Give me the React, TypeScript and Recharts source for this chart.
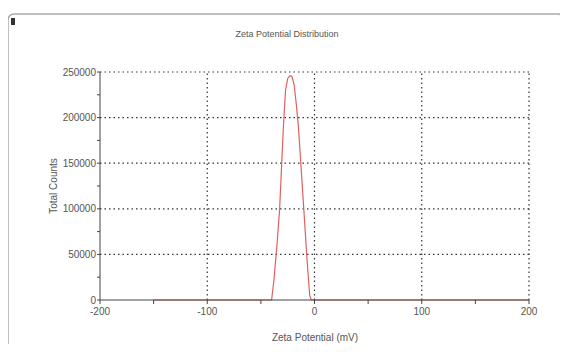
import { LineChart, Line, XAxis, YAxis, ReferenceLine } from "recharts";

// zeta potential (mV) and total counts
const potential = [-150, -40, -38, -35, -32.5, -29, -27, -25, -23, -21, -19, -17, -15, -12.5, -10, -7, -4.5, -3, 200];
const counts = [0, 0, 20000, 60000, 100000, 190000, 230000, 243000, 246000, 245000, 236000, 215000, 190000, 145000, 100000, 45000, 5000, 0, 0];

const xTicks = [-200, -150, -100, -50, 0, 50, 100, 150, 200];
const yTicks = [0, 25000, 50000, 75000, 100000, 125000, 150000, 175000, 200000, 225000, 250000];
const xGrid = [-100, 0, 100, 200];
const yGrid = [50000, 100000, 150000, 200000, 250000];

const data = potential.map((p, i) => ({ p, c: counts[i] }));

const font = "'Liberation Sans', Arial, sans-serif";
const textColor = "#555";

export default function App() {
  return (
    <div style={{ margin: -8, width: 568, height: 352, position: "relative", background: "#fff", overflow: "hidden" }}>
      <LineChart
        width={568}
        height={352}
        data={data}
        margin={{ top: 72, right: 39, bottom: 22, left: 0 }}
        style={{ fontFamily: font }}
      >
        <rect x={8} y={14} width={556} height={350} rx={6} fill="none" stroke="#aaa" strokeWidth={1.5} />
        <rect x={11} y={18} width={4} height={7} fill="#333" />
        <text x={287} y={37} textAnchor="middle" fontSize={9} fill={textColor}>
          Zeta Potential Distribution
        </text>
        <text x={57} y={186} textAnchor="middle" fontSize={10} fill={textColor} transform="rotate(-90 57 186)">
          Total Counts
        </text>
        <text x={315} y={341} textAnchor="middle" fontSize={10} fill={textColor}>
          Zeta Potential (mV)
        </text>
        <XAxis
          dataKey="p"
          type="number"
          domain={[-200, 200]}
          ticks={xTicks}
          interval={0}
          height={30}
          tickSize={4}
          tickFormatter={(v: number) => (v % 100 === 0 ? String(v) : "")}
          stroke="#444"
          tick={{ fill: textColor, fontSize: 10 }}
          tickMargin={4}
        />
        <YAxis
          type="number"
          domain={[0, 250000]}
          ticks={yTicks}
          interval={0}
          width={100}
          tickSize={3}
          tickMargin={1}
          tickFormatter={(v: number) => (v % 50000 === 0 ? String(v) : "")}
          stroke="#444"
          tick={{ fill: textColor, fontSize: 10 }}
        />
        {xGrid.map((v) => (
          <ReferenceLine key={"x" + v} x={v} stroke="#333" strokeDasharray="1.5 3" strokeWidth={1.2} />
        ))}
        {yGrid.map((v) => (
          <ReferenceLine key={"y" + v} y={v} stroke="#333" strokeDasharray="1.5 3" strokeWidth={1.2} />
        ))}
        <Line
          dataKey="c"
          type="linear"
          stroke="#e06060"
          strokeWidth={1.2}
          dot={false}
          isAnimationActive={false}
        />
      </LineChart>
    </div>
  );
}
